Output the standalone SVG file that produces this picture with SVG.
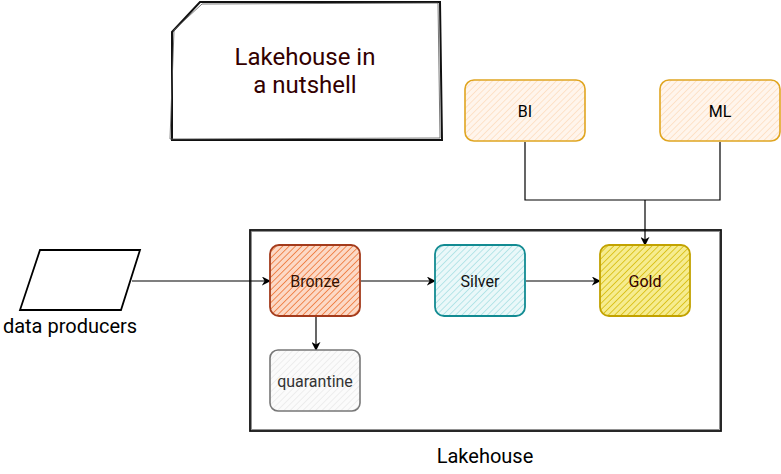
<svg xmlns="http://www.w3.org/2000/svg" width="781" height="474" viewBox="0 0 781 474">
<defs>
<pattern id="hBronze" width="4.5" height="4.5" patternUnits="userSpaceOnUse" patternTransform="rotate(45)"><rect width="4.5" height="4.5" fill="#fcd9c6"/><line x1="0" y1="0" x2="0" y2="4.5" stroke="#ef7a3e" stroke-width="1.7"/></pattern>
<pattern id="hSilver" width="4.5" height="4.5" patternUnits="userSpaceOnUse" patternTransform="rotate(45)"><rect width="4.5" height="4.5" fill="#eaf8f9"/><line x1="0" y1="0" x2="0" y2="4.5" stroke="#a6dfe3" stroke-width="1.5"/></pattern>
<pattern id="hGold" width="4.5" height="4.5" patternUnits="userSpaceOnUse" patternTransform="rotate(45)"><rect width="4.5" height="4.5" fill="#f6ec8f"/><line x1="0" y1="0" x2="0" y2="4.5" stroke="#d9bf12" stroke-width="1.7"/></pattern>
<pattern id="hOrange" width="4.5" height="4.5" patternUnits="userSpaceOnUse" patternTransform="rotate(45)"><rect width="4.5" height="4.5" fill="#fff5ec"/><line x1="0" y1="0" x2="0" y2="4.5" stroke="#fddcbd" stroke-width="1.5"/></pattern>
<pattern id="hGray" width="4.5" height="4.5" patternUnits="userSpaceOnUse" patternTransform="rotate(45)"><rect width="4.5" height="4.5" fill="#fbfbfb"/><line x1="0" y1="0" x2="0" y2="4.5" stroke="#e9e9e9" stroke-width="1.5"/></pattern>
<marker id="arr" viewBox="0 0 10 10" refX="9" refY="5" markerWidth="9" markerHeight="9" orient="auto" markerUnits="userSpaceOnUse"><path d="M0,0 L10,5 L0,10 L3,5 z" fill="#000"/></marker>
</defs>
<style>
text{font-family:Roboto,"Liberation Sans",sans-serif;text-anchor:middle;dominant-baseline:central}
.lbl{font-size:16px}
.conn{fill:none;stroke:#000;stroke-width:1.2}
</style>
<rect width="781" height="474" fill="#fff"/>

<g id="title">
<path d="M172,32 L200,2 L440,2 L442,140 L172,140 Z" fill="#fff" stroke="#111" stroke-width="2"/>
<path d="M174,30 L202,4 L438,3 L440,138 L170,139 Z" fill="none" stroke="#555" stroke-width="0.8"/>
<text x="305" y="57" font-size="24" fill="#330000">Lakehouse in</text>
<text x="305" y="85" font-size="24" fill="#330000">a nutshell</text>
</g>

<g id="lakehouse">
<rect x="250" y="230" width="471" height="201" fill="none" stroke="#111" stroke-width="1.8"/>
<rect x="251.5" y="231.5" width="468" height="198" fill="none" stroke="#777" stroke-width="0.8"/>
<text x="485" y="456" font-size="20" fill="#000">Lakehouse</text>
</g>

<g id="connectors">
<line class="conn" x1="132" y1="281" x2="270" y2="281" marker-end="url(#arr)"/>
<line class="conn" x1="361" y1="281" x2="435" y2="281" marker-end="url(#arr)"/>
<line class="conn" x1="526" y1="281" x2="600" y2="281" marker-end="url(#arr)"/>
<line class="conn" x1="316" y1="316" x2="316" y2="350" marker-end="url(#arr)"/>
<path class="conn" d="M525,142 V200 H720 V142"/>
<line class="conn" x1="645" y1="200" x2="645" y2="245" marker-end="url(#arr)"/>
</g>

<g id="producers">
<path d="M40,250 L140,250 L121,310 L20,310 Z" fill="#fff" stroke="#000" stroke-width="1.8"/>
<text x="70" y="326" font-size="20" fill="#000">data producers</text>
</g>

<g id="bronze">
<rect x="270" y="245" width="90" height="71" rx="9" fill="url(#hBronze)" stroke="#a33b1c" stroke-width="1.8"/>
<text class="lbl" x="315" y="281" fill="#331100">Bronze</text>
</g>

<g id="silver">
<rect x="435" y="245" width="90" height="71" rx="9" fill="url(#hSilver)" stroke="#128b92" stroke-width="1.8"/>
<text class="lbl" x="480" y="281" fill="#111">Silver</text>
</g>

<g id="gold">
<rect x="600" y="245" width="90" height="71" rx="9" fill="url(#hGold)" stroke="#c2a200" stroke-width="1.8"/>
<text class="lbl" x="645" y="281" fill="#330000">Gold</text>
</g>

<g id="quarantine">
<rect x="270" y="350" width="90" height="61" rx="8" fill="url(#hGray)" stroke="#777" stroke-width="1.6"/>
<text class="lbl" x="315" y="381" fill="#333">quarantine</text>
</g>

<g id="bi">
<rect x="465" y="80" width="120" height="61" rx="9" fill="url(#hOrange)" stroke="#e0a520" stroke-width="1.6"/>
<text class="lbl" x="525" y="111" fill="#000">BI</text>
</g>

<g id="ml">
<rect x="660" y="80" width="120" height="61" rx="9" fill="url(#hOrange)" stroke="#e0a520" stroke-width="1.6"/>
<text class="lbl" x="720" y="111" fill="#000">ML</text>
</g>
</svg>
